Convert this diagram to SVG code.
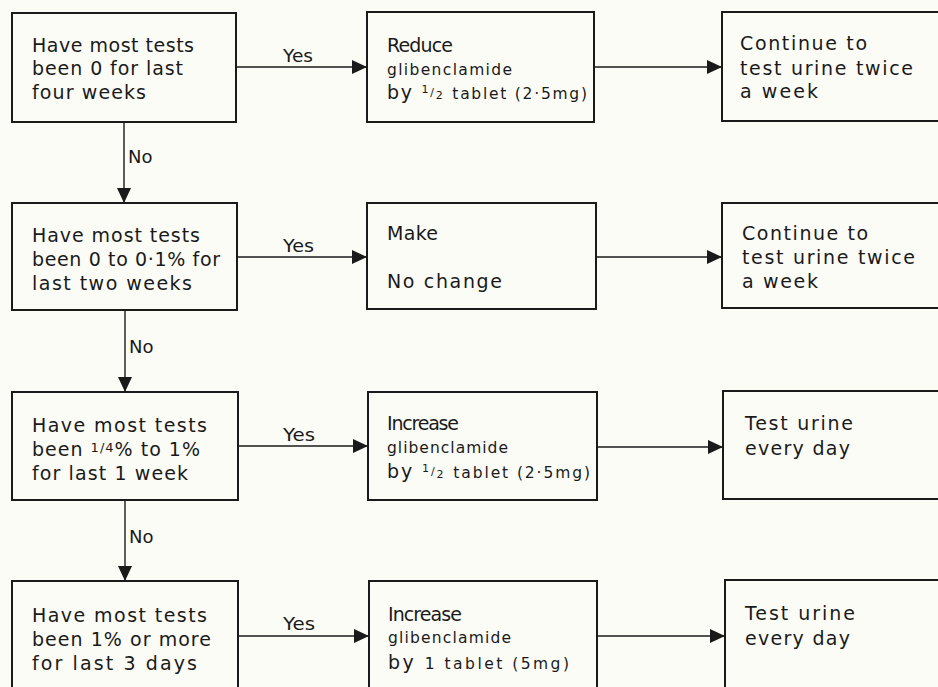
<svg xmlns="http://www.w3.org/2000/svg" width="938" height="687" viewBox="0 0 938 687">
<style>
.box{fill:none;stroke:#1a1a1a;stroke-width:2}
.con{stroke:#1a1a1a;stroke-width:1.4;fill:none}
text{font-family:"DejaVu Sans","Liberation Sans",sans-serif;fill:#1a1a1a}
.t{font-size:19px}
.s{font-size:15.5px}
.f{font-size:11px}
.lab{font-size:18px}
</style>
<defs>
<marker id="ah" markerWidth="15" markerHeight="14" refX="15" refY="7" orient="auto" markerUnits="userSpaceOnUse">
<path d="M0,0 L15,7 L0,14 z" fill="#1a1a1a"/>
</marker>
</defs>
<rect width="938" height="687" fill="#fcfcf7"/>

<g id="connectors">
<line class="con" x1="236" y1="67" x2="367" y2="67" marker-end="url(#ah)"/>
<line class="con" x1="594" y1="67" x2="722" y2="67" marker-end="url(#ah)"/>
<line class="con" x1="124" y1="122" x2="124" y2="203" marker-end="url(#ah)"/>
<line class="con" x1="237" y1="257" x2="367" y2="257" marker-end="url(#ah)"/>
<line class="con" x1="596" y1="257" x2="722" y2="257" marker-end="url(#ah)"/>
<line class="con" x1="125" y1="310" x2="125" y2="392" marker-end="url(#ah)"/>
<line class="con" x1="238" y1="446" x2="368" y2="446" marker-end="url(#ah)"/>
<line class="con" x1="597" y1="447" x2="723" y2="447" marker-end="url(#ah)"/>
<line class="con" x1="125" y1="500" x2="125" y2="581" marker-end="url(#ah)"/>
<line class="con" x1="238" y1="636" x2="369" y2="636" marker-end="url(#ah)"/>
<line class="con" x1="597" y1="636" x2="725" y2="636" marker-end="url(#ah)"/>
<text class="lab" x="283" y="62" textLength="30" lengthAdjust="spacingAndGlyphs">Yes</text>
<text class="lab" x="283" y="252" textLength="31" lengthAdjust="spacingAndGlyphs">Yes</text>
<text class="lab" x="283" y="441" textLength="32" lengthAdjust="spacingAndGlyphs">Yes</text>
<text class="lab" x="283" y="630" textLength="32" lengthAdjust="spacingAndGlyphs">Yes</text>
<text class="lab" x="128" y="163">No</text>
<text class="lab" x="129" y="353">No</text>
<text class="lab" x="129" y="543">No</text>
</g>

<g id="q1">
<rect class="box" x="12" y="13" width="224" height="109"/>
<text class="t" x="32" y="52" textLength="162" lengthAdjust="spacing">Have most tests</text>
<text class="t" x="32" y="75" textLength="151" lengthAdjust="spacing">been 0 for last</text>
<text class="t" x="32" y="99" textLength="114" lengthAdjust="spacing">four weeks</text>
</g>
<g id="a1">
<rect class="box" x="367" y="12" width="227" height="110"/>
<text class="t" x="387" y="52" textLength="66" lengthAdjust="spacing">Reduce</text>
<text class="s" x="387" y="75" textLength="125" lengthAdjust="spacing">glibenclamide</text>
<text class="t" x="387" y="99" textLength="200" lengthAdjust="spacing">by <tspan class="f" dy="-6">1</tspan><tspan class="f" dy="3">/</tspan><tspan class="f" dy="3">2</tspan> <tspan class="s">tablet (2·5mg)</tspan></text>
</g>
<g id="r1">
<rect class="box" x="722" y="12" width="230" height="109"/>
<text class="t" x="740" y="50" textLength="127" lengthAdjust="spacing">Continue to</text>
<text class="t" x="740" y="75" textLength="173" lengthAdjust="spacing">test urine twice</text>
<text class="t" x="740" y="98" textLength="78" lengthAdjust="spacing">a week</text>
</g>

<g id="q2">
<rect class="box" x="12" y="203" width="225" height="107"/>
<text class="t" x="32" y="242" textLength="168" lengthAdjust="spacing">Have most tests</text>
<text class="t" x="32" y="266" textLength="188" lengthAdjust="spacing">been 0 to 0·1% for</text>
<text class="t" x="32" y="290" textLength="160" lengthAdjust="spacing">last two weeks</text>
</g>
<g id="a2">
<rect class="box" x="367" y="203" width="229" height="106"/>
<text class="t" x="387" y="240" textLength="51" lengthAdjust="spacing">Make</text>
<text class="t" x="387" y="288" textLength="115" lengthAdjust="spacing">No change</text>
</g>
<g id="r2">
<rect class="box" x="722" y="203" width="230" height="105"/>
<text class="t" x="742" y="240" textLength="126" lengthAdjust="spacing">Continue to</text>
<text class="t" x="742" y="264" textLength="173" lengthAdjust="spacing">test urine twice</text>
<text class="t" x="742" y="288" textLength="76" lengthAdjust="spacing">a week</text>
</g>

<g id="q3">
<rect class="box" x="12" y="392" width="226" height="108"/>
<text class="t" x="32" y="432" textLength="175" lengthAdjust="spacing">Have most tests</text>
<text class="t" x="32" y="456" textLength="168" lengthAdjust="spacing">been <tspan font-size="13" dy="-4">1/4</tspan><tspan dy="4">% to 1%</tspan></text>
<text class="t" x="32" y="480" textLength="156" lengthAdjust="spacing">for last 1 week</text>
</g>
<g id="a3">
<rect class="box" x="368" y="392" width="229" height="108"/>
<text class="t" x="387" y="430" textLength="72" lengthAdjust="spacing">Increase</text>
<text class="s" x="387" y="453" textLength="121" lengthAdjust="spacing">glibenclamide</text>
<text class="t" x="387" y="478" textLength="203" lengthAdjust="spacing">by <tspan class="f" dy="-6">1</tspan><tspan class="f" dy="3">/</tspan><tspan class="f" dy="3">2</tspan> <tspan class="s">tablet  (2·5mg)</tspan></text>
</g>
<g id="r3">
<rect class="box" x="723" y="391" width="230" height="108"/>
<text class="t" x="745" y="430" textLength="108" lengthAdjust="spacing">Test urine</text>
<text class="t" x="745" y="455" textLength="105" lengthAdjust="spacing">every day</text>
</g>

<g id="q4">
<rect class="box" x="12" y="581" width="226" height="120"/>
<text class="t" x="32" y="622" textLength="175" lengthAdjust="spacing">Have most tests</text>
<text class="t" x="32" y="646" textLength="179" lengthAdjust="spacing">been 1% or more</text>
<text class="t" x="32" y="670" textLength="165" lengthAdjust="spacing">for last 3 days</text>
</g>
<g id="a4">
<rect class="box" x="369" y="581" width="228" height="120"/>
<text class="t" x="388" y="621" textLength="74" lengthAdjust="spacing">Increase</text>
<text class="s" x="388" y="643" textLength="123" lengthAdjust="spacing">glibenclamide</text>
<text class="t" x="388" y="669" textLength="181" lengthAdjust="spacing">by <tspan class="s">1 tablet (5mg)</tspan></text>
</g>
<g id="r4">
<rect class="box" x="725" y="580" width="230" height="120"/>
<text class="t" x="745" y="620" textLength="110" lengthAdjust="spacing">Test urine</text>
<text class="t" x="745" y="645" textLength="105" lengthAdjust="spacing">every day</text>
</g>
</svg>
